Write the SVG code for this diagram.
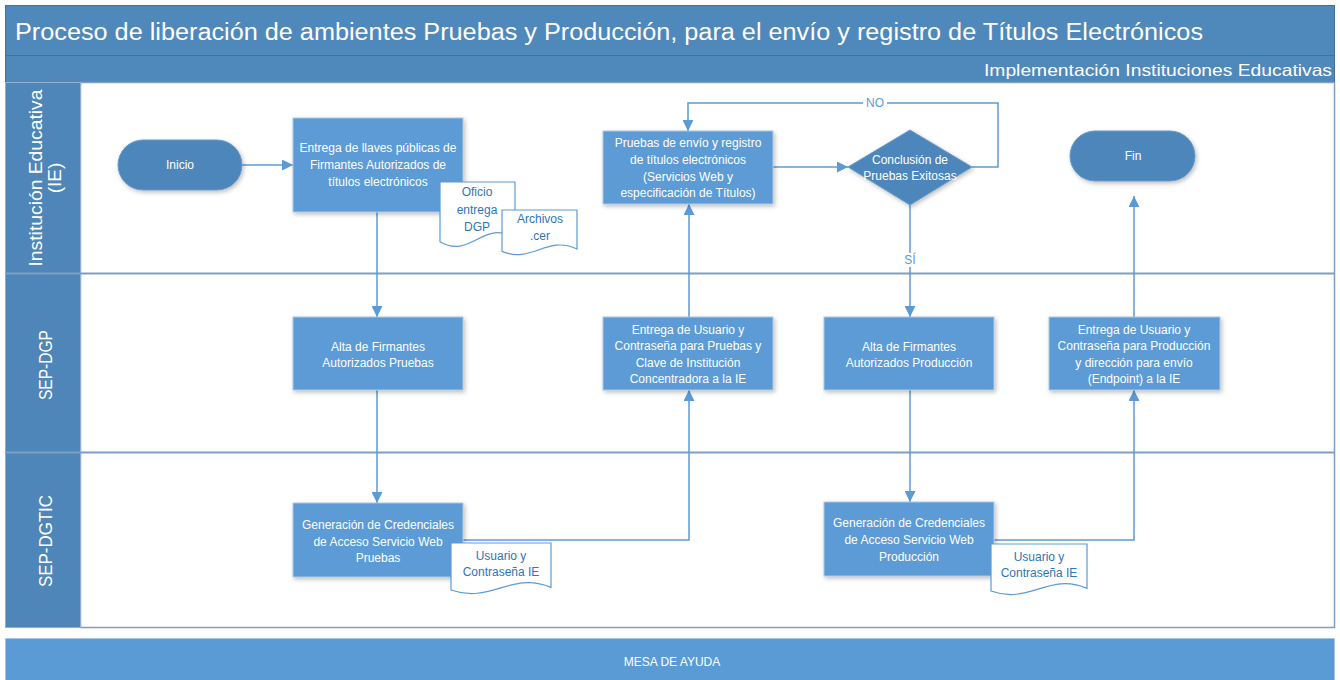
<svg xmlns="http://www.w3.org/2000/svg" width="1340" height="680" viewBox="0 0 1340 680">
<style>
.hdr{fill:#4F88BB;stroke:#41719C;stroke-width:1}
.lanehd{fill:#4E86BA;stroke:#8FB0D2;stroke-width:1}
.box{fill:#5B9BD5;stroke:#AEC8E2;stroke-width:1;filter:url(#sh)}
.term{fill:#4E86BA;stroke:#6A9ACA;stroke-width:1;filter:url(#sh)}
.doc{fill:#fff;stroke:#5B9BD5;stroke-width:1.2}
.t{font-family:"Liberation Sans",Arial,sans-serif;font-size:12px;fill:#fff;text-anchor:middle}
.dt{fill:#2E75B6}
.lbl{font-family:"Liberation Sans",Arial,sans-serif;font-size:12px;fill:#5B9BD5;text-anchor:middle}
.lane{font-family:"Liberation Sans",Arial,sans-serif;font-size:19px;fill:#fff;text-anchor:middle}
.conn{fill:none;stroke:#5B9BD5;stroke-width:1.5}
</style>
<defs>
<filter id="sh" x="-20%" y="-20%" width="140%" height="150%">
<feDropShadow dx="1.5" dy="2" stdDeviation="2" flood-color="#000" flood-opacity="0.25"/>
</filter>
<marker id="ar" markerUnits="userSpaceOnUse" markerWidth="11" markerHeight="11" refX="11" refY="5.5" orient="auto">
<path d="M0,0 L11,5.5 L0,11 Z" fill="#5B9BD5"/>
</marker>
</defs>
<rect x="0" y="0" width="1340" height="680" fill="#fff"/>
<g id="pool">
<rect class="hdr" x="5.5" y="5.5" width="1329" height="50"/>
<rect class="hdr" x="5.5" y="55.5" width="1329" height="27"/>
<text x="15" y="40" font-family="'Liberation Sans',Arial,sans-serif" font-size="23" fill="#fff" textLength="1188" lengthAdjust="spacingAndGlyphs">Proceso de liberación de ambientes Pruebas y Producción, para el envío y registro de Títulos Electrónicos</text>
<text x="1332" y="76" font-family="'Liberation Sans',Arial,sans-serif" font-size="16.5" fill="#fff" text-anchor="end" textLength="348" lengthAdjust="spacingAndGlyphs">Implementación Instituciones Educativas</text>
<rect x="80.5" y="82.5" width="1254" height="545" fill="#fff" stroke="#7E9FC2" stroke-width="1.5"/>
<rect class="lanehd" x="5.5" y="82.5" width="75" height="191"/>
<rect class="lanehd" x="5.5" y="273.5" width="75" height="179"/>
<rect class="lanehd" x="5.5" y="452.5" width="75" height="175"/>
<line x1="5" y1="273.5" x2="1335" y2="273.5" stroke="#7E9FC2" stroke-width="2"/>
<line x1="5" y1="452.5" x2="1335" y2="452.5" stroke="#7E9FC2" stroke-width="2"/>
<text class="lane" transform="translate(42,178) rotate(-90)" textLength="177" lengthAdjust="spacingAndGlyphs">Institución Educativa</text>
<text class="lane" transform="translate(61,178) rotate(-90)">(IE)</text>
<text class="lane" transform="translate(52,365) rotate(-90)" textLength="70" lengthAdjust="spacingAndGlyphs">SEP-DGP</text>
<text class="lane" transform="translate(52,541) rotate(-90)" textLength="92" lengthAdjust="spacingAndGlyphs">SEP-DGTIC</text>
</g>
<g id="mesa">
<rect x="5.5" y="638.5" width="1329" height="42" fill="#5B9BD5" stroke="#A9C4DF" stroke-width="1"/>
<text class="t" x="672" y="666">MESA DE AYUDA</text>
</g>
<g id="connectors">
<line class="conn" x1="242" y1="165" x2="293" y2="165" marker-end="url(#ar)"/>
<line class="conn" x1="377" y1="212" x2="377" y2="317" marker-end="url(#ar)"/>
<line class="conn" x1="377" y1="390" x2="377" y2="503" marker-end="url(#ar)"/>
<polyline class="conn" points="463,540 689,540 689,390" marker-end="url(#ar)"/>
<line class="conn" x1="689" y1="317" x2="689" y2="204" marker-end="url(#ar)"/>
<line class="conn" x1="773" y1="167" x2="848" y2="167" marker-end="url(#ar)"/>
<polyline class="conn" points="972,167 998,167 998,103 688,103 688,131" marker-end="url(#ar)"/>
<line class="conn" x1="910" y1="205" x2="910" y2="317" marker-end="url(#ar)"/>
<line class="conn" x1="910" y1="390" x2="910" y2="502" marker-end="url(#ar)"/>
<polyline class="conn" points="994,540 1134,540 1134,390" marker-end="url(#ar)"/>
<line class="conn" x1="1134" y1="317" x2="1134" y2="196" marker-end="url(#ar)"/>
<rect x="863" y="96" width="24" height="14" fill="#fff"/>
<text class="lbl" x="875" y="107">NO</text>
<rect x="902" y="253" width="16" height="14" fill="#fff"/>
<text class="lbl" x="910" y="264">SÍ</text>
</g>
<g id="inicio">
<rect class="term" x="118" y="140" width="124" height="50" rx="25"/>
<text class="t" x="180" y="169">Inicio</text>
</g>
<g id="fin">
<rect class="term" x="1070" y="131" width="125" height="50" rx="25"/>
<text class="t" x="1133" y="160">Fin</text>
</g>
<g id="entrega-llaves">
<rect class="box" x="293" y="118" width="170" height="94"/>
<text class="t" x="378" y="152">Entrega de llaves públicas de</text>
<text class="t" x="378" y="169">Firmantes Autorizados de</text>
<text class="t" x="378" y="186">títulos electrónicos</text>
</g>
<g id="doc-oficio">
<path class="doc" d="M440,182 H515 V238.5 C485,217.75 470,260 440,241.8 Z"/>
<text class="t dt" x="477" y="196">Oficio</text>
<text class="t dt" x="477" y="214">entrega</text>
<text class="t dt" x="477" y="231">DGP</text>
</g>
<g id="doc-archivos">
<path class="doc" d="M502,210 H577 V249 C547,234.8 532,264 502,251.4 Z"/>
<text class="t dt" x="540" y="223">Archivos</text>
<text class="t dt" x="540" y="240">.cer</text>
</g>
<g id="pruebas-envio">
<rect class="box" x="603" y="131" width="170" height="73"/>
<text class="t" x="688" y="147">Pruebas de envío y registro</text>
<text class="t" x="688" y="164">de títulos electrónicos</text>
<text class="t" x="688" y="181">(Servicios Web y</text>
<text class="t" x="688" y="197">especificación de Títulos)</text>
</g>
<g id="conclusion">
<polygon class="term" points="848,167 910,130 972,167 910,205"/>
<text class="t" x="910" y="164">Conclusión de</text>
<text class="t" x="910" y="180">Pruebas Exitosas</text>
</g>
<g id="alta-pruebas">
<rect class="box" x="293" y="317" width="170" height="73"/>
<text class="t" x="378" y="351">Alta de Firmantes</text>
<text class="t" x="378" y="367">Autorizados Pruebas</text>
</g>
<g id="entrega-usuario-pruebas">
<rect class="box" x="603" y="317" width="170" height="73"/>
<text class="t" x="688" y="334">Entrega de Usuario y</text>
<text class="t" x="688" y="350">Contraseña para Pruebas y</text>
<text class="t" x="688" y="367">Clave de Institución</text>
<text class="t" x="688" y="383">Concentradora a la IE</text>
</g>
<g id="alta-produccion">
<rect class="box" x="824" y="317" width="170" height="73"/>
<text class="t" x="909" y="351">Alta de Firmantes</text>
<text class="t" x="909" y="367">Autorizados Producción</text>
</g>
<g id="entrega-usuario-produccion">
<rect class="box" x="1049" y="317" width="171" height="73"/>
<text class="t" x="1134" y="334">Entrega de Usuario y</text>
<text class="t" x="1134" y="350">Contraseña para Producción</text>
<text class="t" x="1134" y="367">y dirección para envío</text>
<text class="t" x="1134" y="383">(Endpoint) a la IE</text>
</g>
<g id="generacion-pruebas">
<rect class="box" x="293" y="503" width="170" height="74"/>
<text class="t" x="378" y="529">Generación de Credenciales</text>
<text class="t" x="378" y="546">de Acceso Servicio Web</text>
<text class="t" x="378" y="562">Pruebas</text>
</g>
<g id="doc-usuario-pruebas">
<path class="doc" d="M451,543 H551 V587.4 C511,571 491,604 451,590 Z"/>
<text class="t dt" x="501" y="560">Usuario y</text>
<text class="t dt" x="501" y="576">Contraseña IE</text>
</g>
<g id="generacion-produccion">
<rect class="box" x="824" y="502" width="170" height="74"/>
<text class="t" x="909" y="527">Generación de Credenciales</text>
<text class="t" x="909" y="544">de Acceso Servicio Web</text>
<text class="t" x="909" y="561">Producción</text>
</g>
<g id="doc-usuario-produccion">
<path class="doc" d="M991,544 H1087 V588.4 C1049,572 1029,605 991,591 Z"/>
<text class="t dt" x="1039" y="561">Usuario y</text>
<text class="t dt" x="1039" y="577">Contraseña IE</text>
</g>
</svg>
